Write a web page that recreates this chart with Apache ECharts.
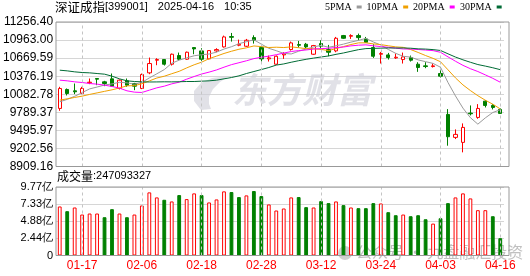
<!DOCTYPE html>
<html><head><meta charset="utf-8">
<script src="https://cdn.jsdelivr.net/npm/echarts@6/dist/echarts.min.js"></script>
<style>html,body{margin:0;padding:0;background:#fff}#c{width:530px;height:276px}</style>
</head><body><div id="c"></div>
<script>
const dates = ['01-14','01-15','01-16','01-17','01-20','01-21','01-22','01-23','01-24','01-27',
'02-05','02-06','02-07','02-10','02-11','02-12','02-13','02-14','02-17','02-18','02-19','02-20','02-21','02-24','02-25','02-26','02-27','02-28',
'03-03','03-04','03-05','03-06','03-07','03-10','03-11','03-12','03-13','03-14','03-17','03-18','03-19','03-20','03-21','03-24','03-25','03-26','03-27','03-28','03-31',
'04-01','04-02','04-03','04-07','04-08','04-09','04-10','04-11','04-14','04-15','04-16'];
const openPrices = [9852.2,10160.2,10138.6,10095.3,10268.2,10338.5,10284.4,10333.1,10176.4,10300.7,
10257.4,10176.4,10430.3,10635.6,10646.4,10570.8,10711.3,10651.8,10841.0,10786.9,10657.3,10786.9,10851.8,11019.3,10878.8,10862.6,11003.0,10841.0,
10657.3,10570.8,10722.1,10808.5,10889.6,10895.0,10732.9,10905.8,10808.5,10786.9,11035.5,11024.7,11035.5,10981.4,10841.0,10732.9,10722.1,10673.5,10646.4,10678.9,10570.8,
10543.8,10533.0,10419.5,9755.0,9382.1,9301.1,9776.6,9706.3,9971.1,9900.8,9836.0];
const closePrices = [10176.4,10095.3,10122.4,10176.4,10278.9,10327.6,10257.4,10214.2,10311.5,10230.4,
10214.2,10403.3,10581.6,10646.4,10570.8,10732.9,10651.8,10765.3,10819.3,10651.8,10792.3,10808.5,11013.8,11008.4,10895.0,10959.8,10959.8,10657.3,
10673.5,10700.5,10738.3,10916.6,10878.8,10851.8,10873.4,10862.6,10765.3,10992.2,10992.2,11035.5,11003.0,10927.4,10700.5,10743.7,10678.9,10684.3,10689.7,10635.6,10516.8,
10533.0,10543.8,10376.3,9392.9,9430.8,9544.2,9765.8,9852.2,9900.8,9868.4,9771.2];
const lowPrices = [9814.4,10062.9,10084.5,10084.5,10246.6,10230.4,10214.2,10203.4,10160.2,10203.4,
10149.4,10165.6,10408.7,10554.6,10549.2,10549.2,10635.6,10641.0,10732.9,10624.8,10651.8,10765.3,10841.0,10938.2,10862.6,10851.8,10905.8,10614.0,
10614.0,10560.0,10657.3,10792.3,10841.0,10830.1,10722.1,10830.1,10700.5,10765.3,10981.4,10981.4,10959.8,10916.6,10673.5,10581.6,10646.4,10657.3,10581.6,10614.0,10446.5,
10506.0,10516.8,10354.7,9247.1,9355.1,9139.0,9738.7,9684.7,9868.4,9836.0,9765.8];
const highPrices = [10203.4,10176.4,10257.4,10203.4,10338.5,10343.9,10300.7,10419.5,10322.3,10338.5,
10268.2,10419.5,10678.9,10668.1,10651.8,10743.7,10759.9,10776.1,10846.4,10830.1,10797.7,10830.1,11035.5,11078.7,10970.6,10981.4,11040.9,10895.0,
10711.3,10711.3,10765.3,10938.2,10949.0,10916.6,10884.2,10959.8,10884.2,11013.8,11046.3,11057.1,11067.9,11013.8,10895.0,10770.7,10754.5,10743.7,10759.9,10711.3,10603.2,
10603.2,10581.6,10527.6,9841.4,9511.8,9609.1,9900.8,9922.4,9987.3,9922.4,9852.2];
const ma5 = [9960,10000,10050,10110,10169.9,10200.1,10232.5,10250.9,10277.9,10268.2,
10245.5,10274.7,10348.2,10415.2,10483.3,10587.0,10636.7,10673.4,10708.0,10724.2,10736.1,10767.4,10817.1,10855.0,10903.6,10937.1,10967.4,10896.1,
10829.1,10790.2,10745.9,10737.2,10781.5,10817.2,10851.8,10876.6,10846.4,10869.1,10897.1,10929.6,10957.6,10990.1,10931.7,10882.0,10810.7,10747.0,10699.4,10686.4,10641.1,
10611.9,10583.8,10521.1,10272.6,10055.4,9857.6,9702.0,9597.2,9698.8,9786.3,9831.7];
const ma10 = [9987,10009,10031,10052,10080,10105,10130,10155,10185,10219.1,
10222.8,10253.6,10299.6,10346.6,10375.7,10416.3,10455.7,10510.8,10561.6,10603.7,10661.6,10702.1,10745.3,10781.5,10813.9,10836.6,10867.4,10856.6,
10842.0,10846.9,10841.5,10852.3,10838.8,10823.1,10821.0,10811.3,10791.8,10825.3,10857.2,10890.7,10917.1,10918.2,10900.4,10889.6,10870.1,10852.3,10844.7,10809.1,10761.5,
10711.3,10665.4,10610.3,10479.5,10348.2,10234.7,10142.9,10059.1,9985.7,9920.8,9844.6];
const ma20 = [10311.5,10300.7,10284.4,10273.6,10257.4,10246.6,10230.4,10208.8,10181.8,10138.6,
10117.0,10111.5,10149.4,10187.2,10214.2,10252.0,10279.0,10327.6,10370.9,10411.4,10442.2,10477.9,10522.4,10564.0,10594.8,10626.4,10661.6,10683.7,
10701.8,10725.3,10751.5,10777.2,10792.0,10802.3,10817.4,10823.9,10829.6,10841.0,10849.6,10868.8,10879.3,10885.3,10869.6,10856.4,10845.6,10831.8,10818.3,10817.2,10809.4,
10801.0,10791.3,10764.2,10689.9,10618.9,10552.4,10497.6,10451.9,10397.4,10341.2,10278.0];
const ma30 = [10473.5,10462.7,10446.5,10435.7,10430.3,10419.5,10408.7,10376.3,10333.1,10300.7,
10289.8,10284.4,10282.0,10283.0,10285.0,10284.0,10286.0,10289.8,10289.8,10295.3,10300.7,10311.5,10333.1,10354.7,10381.7,10419.5,10451.9,10484.3,
10516.8,10556.6,10575.3,10602.7,10627.9,10650.4,10670.2,10688.0,10705.0,10730.9,10753.6,10780.4,10806.7,10824.2,10828.2,10831.4,10835.0,10833.4,10834.7,10830.3,10820.2,
10816.3,10808.0,10793.6,10739.6,10687.0,10642.0,10602.2,10565.2,10540.0,10513.2,10482.2];
const volumes = [699200000,632100000,684800000,584300000,598600000,598600000,546000000,660900000,598600000,546000000,
584300000,713600000,900300000,828500000,795000000,771000000,862000000,804600000,886000000,862000000,756700000,799800000,914700000,905100000,833300000,857200000,919500000,847700000,
727900000,641700000,670500000,828500000,833300000,689600000,684800000,775800000,747100000,771000000,718400000,684800000,675200000,675200000,747100000,742300000,617800000,574700000,584300000,560300000,574700000,
517200000,455000000,531600000,747100000,828500000,886000000,814100000,646500000,646500000,560300000,247093327];
const volumeUp = [1,0,1,1,1,1,0,0,1,0, 1,1,1,1,0,1,0,1,1,0,1,1,1,0,0,1,0,0,
1,1,1,1,0,0,1,0,0,1,0,1,0,0,0,1,0,0,1,0,0, 0,1,0,0,1,1,1,1,1,0,0];
const xLabelDates = ['01-17','02-06','02-18','02-28','03-12','03-24','04-03','04-16'];
const priceTickLabels = ['8909.16','9202.56','9495.97','9789.37','10082.78','10376.19','10669.59','10963.00','11256.40'];
const volumeTickLabels = ['0','2.44亿','4.88亿','7.33亿','9.77亿'];
const maNames = ['5PMA','10PMA','20PMA','30PMA'];
const priceMin = 8909.16, priceMax = 11256.40;
const volumeMax = 977000000;

const chart = echarts.init(document.getElementById('c'));
const priceStep = (priceMax - priceMin) / 8;
const volStep = volumeMax / 4;
const candleData = dates.map((d, i) => [openPrices[i], closePrices[i], lowPrices[i], highPrices[i]]);
const volumeData = volumes.map((v, i) => ({
  value: v,
  itemStyle: volumeUp[i] ? {color: '#fff', borderColor: '#ff0000', borderWidth: 1}
                         : {color: '#008000', borderColor: '#008000', borderWidth: 1}
}));
const maColors = ['#9a9a9a', '#f0a000', '#ff00ff', '#006b35'];
const maData = [ma5, ma10, ma20, ma30];
const vLines = {
  silent: true, symbol: ['none', 'none'], animation: false,
  label: {show: false},
  lineStyle: {type: [3, 3], color: '#c4c4c4', width: 1},
  data: xLabelDates.map(d => ({xAxis: d}))
};
const legendLeft = [325, 366.5, 413, 460];
const sans = 'Liberation Sans';
const cjk = 'Noto Sans CJK SC';
const option = {
  animation: false,
  backgroundColor: '#fff',
  title: [{
    left: 55, top: 1, padding: 0,
    text: '{n|深证成指}{c|[399001]}{d|2025-04-16}{d|10:35}',
    textStyle: {fontWeight: 'normal', rich: {
      n: {fontFamily: cjk, fontSize: 12.5, color: '#000', fontWeight: 'normal'},
      c: {fontFamily: sans, fontSize: 11, color: '#000', fontWeight: 'normal'},
      d: {fontFamily: sans, fontSize: 11, color: '#000', fontWeight: 'normal', padding: [0, 0, 0, 10]}
    }}
  }, {
    left: 57, top: 170, padding: 0,
    text: '{n|成交量}{c|:' + volumes[volumes.length - 1] + '}',
    textStyle: {fontWeight: 'normal', rich: {
      n: {fontFamily: cjk, fontSize: 12, color: '#000', fontWeight: 'normal'},
      c: {fontFamily: sans, fontSize: 11, color: '#000', fontWeight: 'normal'}
    }}
  }],
  legend: maNames.map((n, k) => ({
    data: [n], left: legendLeft[k], top: 2, padding: 0, align: 'right',
    icon: 'rect', itemWidth: 5, itemHeight: 3, selectedMode: false,
    textStyle: {fontFamily: 'Liberation Serif', fontSize: 10, color: '#000'}
  })),
  grid: [
    {left: 56, top: 22, width: 448, height: 144.5},
    {left: 56, top: 187, width: 448, height: 68.5}
  ],
  xAxis: [
    {type: 'category', gridIndex: 0, data: dates, boundaryGap: true,
     axisLine: {show: false}, axisTick: {show: false}, axisLabel: {show: false}, splitLine: {show: false}},
    {type: 'category', gridIndex: 1, data: dates, boundaryGap: true,
     axisLine: {show: false}, axisTick: {show: false}, splitLine: {show: false},
     axisLabel: {interval: (i, v) => xLabelDates.includes(v), color: '#ff0000', fontSize: 12, fontFamily: sans, margin: 4}}
  ],
  yAxis: [
    {type: 'value', gridIndex: 0, min: priceMin, max: priceMax, interval: priceStep, scale: true,
     axisLine: {show: false}, axisTick: {show: false},
     axisLabel: {showMinLabel: true, showMaxLabel: true, margin: 3, color: '#000', fontSize: 12, fontFamily: sans,
       formatter: v => priceTickLabels[Math.round((v - priceMin) / priceStep)]},
     splitLine: {lineStyle: {color: '#d6d6d6', width: 1}}},
    {type: 'value', gridIndex: 1, min: 0, max: volumeMax, interval: volStep,
     axisLine: {show: false}, axisTick: {show: false},
     axisLabel: {showMinLabel: true, showMaxLabel: true, margin: 3, color: '#000', fontSize: 11, fontFamily: sans,
       formatter: v => volumeTickLabels[Math.round(v / volStep)]},
     splitLine: {lineStyle: {color: '#d6d6d6', width: 1}}}
  ],
  graphic: [
    {type: 'polygon', z: 1, silent: true,
     shape: {points: [[201,110],[194,101],[194,91],[201,83],[212,78],[229,76],[220,82],[213,89],[209,97],[209,104],[211,109]]},
     style: {fill: 'rgba(205,205,215,0.6)'}},
    {type: 'text', z: 1, left: 232, top: 72, silent: true,
     style: {text: '东方财富', font: 'italic bold 35px "Noto Sans CJK SC"', fill: 'rgba(205,205,215,0.6)'}},
    {type: 'circle', z: 1, silent: true, shape: {cx: 345, cy: 253, r: 7}, style: {fill: 'rgba(150,150,150,0.45)'}},
    {type: 'text', z: 1, left: 356, top: 244, silent: true,
     style: {text: '公众号 · 九盘融汇投资', font: '16px "Noto Sans CJK SC"', fill: 'rgba(130,130,130,0.5)'}},
    {type: 'rect', z: 50, silent: true, shape: {x: 56, y: 22, width: 453, height: 144.5},
     style: {fill: 'none', stroke: '#999', lineWidth: 1}},
    {type: 'rect', z: 50, silent: true, shape: {x: 56, y: 187, width: 453, height: 68.5},
     style: {fill: 'none', stroke: '#999', lineWidth: 1}}
  ],
  series: [
    {type: 'candlestick', name: 'K', xAxisIndex: 0, yAxisIndex: 0, data: candleData, barWidth: 3.8,
     itemStyle: {color: '#fff', color0: '#008000', borderColor: '#ff0000', borderColor0: '#008000', borderWidth: 1},
     markLine: vLines},
    ...maNames.map((n, k) => ({
      type: 'line', name: n, xAxisIndex: 0, yAxisIndex: 0, data: maData[k],
      symbol: 'none', showSymbol: false, color: maColors[k], lineStyle: {width: 1, color: maColors[k]}
    })),
    {type: 'bar', name: 'VOL', xAxisIndex: 1, yAxisIndex: 1, data: volumeData, barWidth: 3.8, markLine: vLines}
  ]
};
chart.setOption(option);
</script>
</body></html>
